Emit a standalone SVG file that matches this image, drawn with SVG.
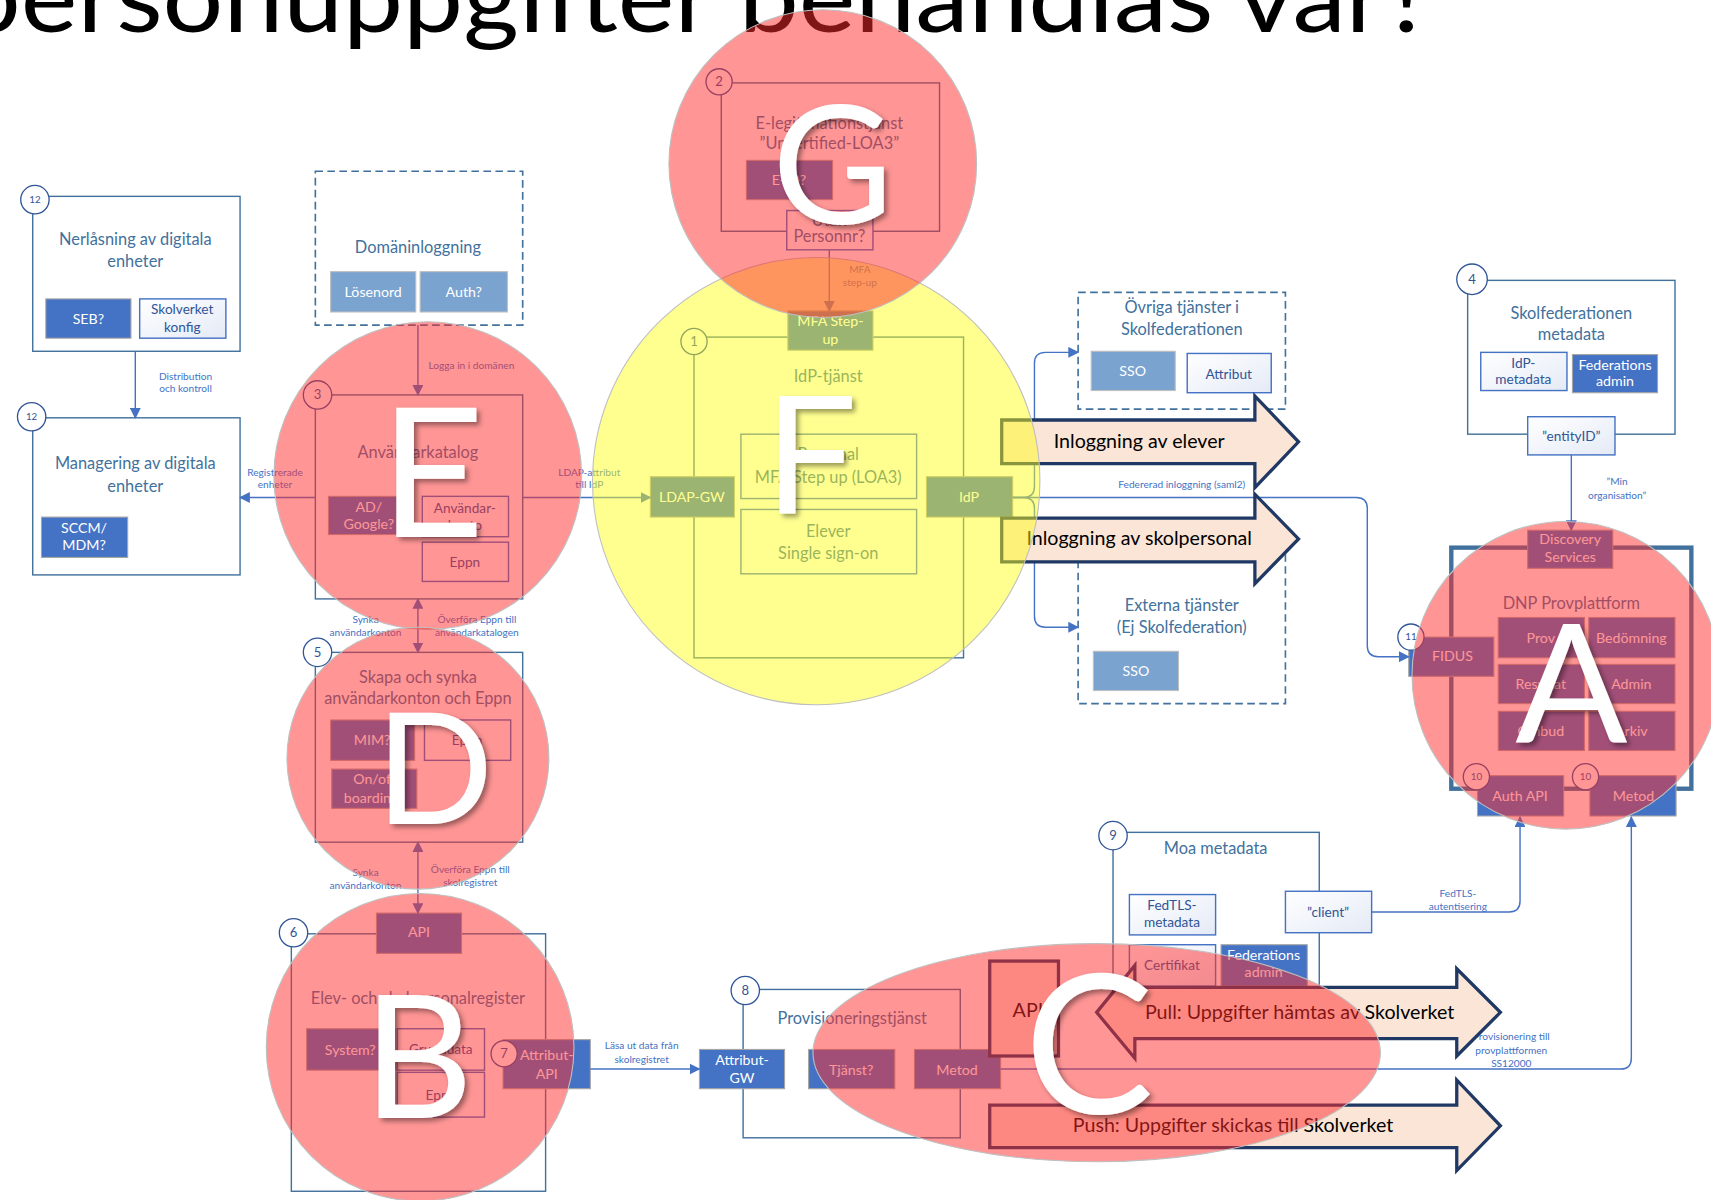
<svg xmlns="http://www.w3.org/2000/svg" width="1711" height="1200" viewBox="0 0 1711 1200">
<defs>
<style>
text{font-family:Lato,"Open Sans","Liberation Sans",sans-serif}
.frame{fill:none;stroke:#41719C;stroke-width:1.3}
.dash{fill:none;stroke:#41719C;stroke-width:1.5;stroke-dasharray:7 4}
.dk{fill:#4472C4;stroke:#A6A6A6;stroke-width:1}
.lt{fill:#7BA3D0;stroke:#BFBFBF;stroke-width:1}
.wb{fill:url(#wg);stroke:#4472C4;stroke-width:1.3}
.ob{fill:#fff;stroke:#4472C4;stroke-width:1.3}
.title{font-size:15px;fill:#41719C;text-anchor:middle}
.wt{fill:#fff;text-anchor:middle;font-size:13px}
.bt{fill:#2F5597;text-anchor:middle;font-size:12.5px}
.sm{fill:#4472C4;text-anchor:middle;font-size:9.3px}
.num circle{fill:#fff;stroke:#2F5597;stroke-width:1.2}
.num text{fill:#2F5597;text-anchor:middle;font-size:12px}
.num.s text{font-size:9px}
.conn{fill:none;stroke:#4472C4;stroke-width:1.3}
.big{fill:#FBE5D6;stroke:#1F3864;stroke-width:3}
.bigt{font-size:18px;fill:#000;text-anchor:middle}
.red{fill:#FF2B2B;fill-opacity:.5;stroke:#BFBFBF;stroke-width:1}
.yel{fill:#FFFF14;fill-opacity:.47;stroke:#BFBFBF;stroke-width:1}
.let{fill:#fff;text-anchor:middle;filter:url(#sh)}
</style>
<linearGradient id="wg" x1="0" y1="0" x2="1" y2="1">
<stop offset="0" stop-color="#fff"/><stop offset="1" stop-color="#E4EAF6"/>
</linearGradient>
<marker id="ah" viewBox="0 0 10 10" refX="9" refY="5" markerWidth="10" markerHeight="10" markerUnits="userSpaceOnUse" orient="auto-start-reverse">
<path d="M0,0 L10,5 L0,10 z" fill="#4472C4"/>
</marker>
<filter id="sh" x="-20%" y="-20%" width="150%" height="150%">
<feDropShadow dx="3" dy="3" stdDeviation="2.5" flood-color="#000" flood-opacity="0.4"/>
</filter>
</defs>
<rect width="1711" height="1200" fill="#fff"/>
<g transform="scale(1.0912 1.0909)">

<text x="-36" y="29" font-size="88" font-weight="400" fill="#000" textLength="1349" lengthAdjust="spacingAndGlyphs">personuppgifter behandlas var?</text>

<!-- nodes -->
<g id="n12a">
<rect class="frame" x="30" y="180" width="190" height="142"/>
<text class="title" x="124" y="225">Nerlåsning av digitala</text>
<text class="title" x="124" y="245">enheter</text>
<rect class="dk" x="42" y="274" width="78" height="36"/>
<text class="wt" x="81" y="297" font-size="14">SEB?</text>
<rect class="wb" x="128" y="274" width="79" height="36"/>
<text class="bt" x="167" y="288" font-size="12">Skolverket</text>
<text class="bt" x="167" y="304" font-size="12">konfig</text>
<g class="num s"><circle cx="32" cy="183" r="13"/><text x="32" y="186">12</text></g>
</g>

<g id="n12b">
<rect class="frame" x="30" y="383" width="190" height="144"/>
<text class="title" x="124" y="430">Managering av digitala</text>
<text class="title" x="124" y="451">enheter</text>
<rect class="dk" x="38" y="474" width="79" height="37"/>
<text class="wt" x="77" y="489" font-size="12.5">SCCM/</text>
<text class="wt" x="77" y="504" font-size="12.5">MDM?</text>
<g class="num s"><circle cx="29" cy="382" r="13"/><text x="29" y="385">12</text></g>
</g>

<g id="ndoman">
<rect class="dash" x="289" y="157" width="190" height="141"/>
<text class="title" x="383" y="232">Domäninloggning</text>
<rect class="lt" x="303" y="249" width="78" height="37"/>
<text class="wt" x="342" y="272" font-size="14">Lösenord</text>
<rect class="lt" x="385" y="249" width="80" height="37"/>
<text class="wt" x="425" y="272" font-size="14">Auth?</text>
</g>

<g id="n3">
<rect class="frame" x="289" y="362" width="190" height="187"/>
<text class="title" x="383" y="420">Användarkatalog</text>
<rect class="dk" x="301" y="455" width="73" height="35"/>
<text class="wt" x="338" y="469">AD/</text>
<text class="wt" x="338" y="485">Google?</text>
<rect class="ob" x="387" y="455" width="79" height="37"/>
<text class="bt" x="426" y="470" font-size="13">Användar-</text>
<text class="bt" x="426" y="486" font-size="13">konto</text>
<rect class="ob" x="387" y="497" width="79" height="36"/>
<text class="bt" x="426" y="520" font-size="13">Eppn</text>
<g class="num"><circle cx="291" cy="362" r="13"/><text x="291" y="366">3</text></g>
</g>

<g id="n5">
<rect class="frame" x="289" y="598" width="190" height="174"/>
<text class="title" x="383" y="626" font-size="14">Skapa och synka</text>
<text class="title" x="383" y="645" font-size="14">användarkonton och Eppn</text>
<rect class="dk" x="303" y="660" width="77" height="37"/>
<text class="wt" x="341" y="683" font-size="14">MIM?</text>
<rect class="ob" x="389" y="660" width="79" height="37"/>
<text class="bt" x="428" y="683" font-size="13">Eppn</text>
<rect class="dk" x="304" y="705" width="78" height="36"/>
<text class="wt" x="343" y="719" font-size="13.5">On/off</text>
<text class="wt" x="343" y="736" font-size="13.5">boarding?</text>
<g class="num"><circle cx="291" cy="598" r="13"/><text x="291" y="602">5</text></g>
</g>

<g id="n6">
<rect class="frame" x="267" y="856" width="233" height="236"/>
<rect class="dk" x="345" y="837" width="78" height="37"/>
<text class="wt" x="384" y="859" font-size="12">API</text>
<text class="title" x="383" y="920">Elev- och skolpersonalregister</text>
<rect class="dk" x="281" y="943" width="81" height="38"/>
<text class="wt" x="321" y="967" font-size="14">System?</text>
<rect class="ob" x="364" y="943" width="80" height="38"/>
<text class="bt" x="404" y="966" font-size="13">Grunddata</text>
<rect class="ob" x="364" y="983" width="80" height="41"/>
<text class="bt" x="404" y="1008" font-size="13">Eppn</text>
<g class="num"><circle cx="269" cy="855" r="13"/><text x="269" y="859">6</text></g>
</g>

<g id="n7">
<rect class="dk" x="461" y="953" width="80" height="45"/>
<text class="wt" x="501" y="972" font-size="12.5">Attribut-</text>
<text class="wt" x="501" y="989" font-size="12.5">API</text>
<g class="num"><circle cx="462" cy="966" r="12"/><text x="462" y="970">7</text></g>
</g>

<g id="n8">
<rect class="frame" x="681" y="907" width="199" height="136"/>
<text class="title" x="781" y="939">Provisioneringstjänst</text>
<rect class="dk" x="641" y="962" width="78" height="36"/>
<text class="wt" x="680" y="976" font-size="12.5">Attribut-</text>
<text class="wt" x="680" y="993" font-size="12.5">GW</text>
<rect class="dk" x="741" y="962" width="79" height="36"/>
<text class="wt" x="780" y="985" font-size="14">Tjänst?</text>
<rect class="dk" x="838" y="962" width="79" height="36"/>
<text class="wt" x="877" y="985" font-size="13">Metod</text>
<g class="num"><circle cx="683" cy="908" r="13"/><text x="683" y="912">8</text></g>
</g>

<g id="n9">
<rect class="frame" x="1020" y="763" width="189" height="152"/>
<text class="title" x="1114" y="783">Moa metadata</text>
<rect class="wb" x="1035" y="820" width="79" height="37"/>
<text class="bt" x="1074" y="834">FedTLS-</text>
<text class="bt" x="1074" y="850">metadata</text>
<rect class="wb" x="1178" y="817" width="79" height="38"/>
<text class="bt" x="1217" y="841" font-size="13">”client”</text>
<rect class="wb" x="1035" y="866" width="79" height="38"/>
<text class="bt" x="1074" y="889">Certifikat</text>
<rect class="dk" x="1119" y="866" width="79" height="38"/>
<text class="wt" x="1158" y="880" font-size="12.5">Federations</text>
<text class="wt" x="1158" y="896" font-size="12.5">admin</text>
<g class="num"><circle cx="1020" cy="766" r="13"/><text x="1020" y="770">9</text></g>
</g>

<g id="n4">
<rect class="frame" x="1345" y="257" width="190" height="141"/>
<text class="title" x="1440" y="292">Skolfederationen</text>
<text class="title" x="1440" y="312">metadata</text>
<rect class="wb" x="1357" y="323" width="79" height="35"/>
<text class="bt" x="1396" y="337" font-size="12">IdP-</text>
<text class="bt" x="1396" y="352" font-size="12">metadata</text>
<rect class="dk" x="1441" y="325" width="78" height="35"/>
<text class="wt" x="1480" y="339" font-size="12.5">Federations</text>
<text class="wt" x="1480" y="354" font-size="12.5">admin</text>
<rect class="wb" x="1400" y="382" width="80" height="35"/>
<text class="bt" x="1440" y="404" font-size="13">”entityID”</text>
<g class="num"><circle cx="1349" cy="256" r="14"/><text x="1349" y="260">4</text></g>
</g>

<g id="novriga">
<rect class="dash" x="988" y="268" width="190" height="107"/>
<text class="title" x="1083" y="287">Övriga tjänster i</text>
<text class="title" x="1083" y="307">Skolfederationen</text>
<rect class="lt" x="1000" y="322" width="77" height="36"/>
<text class="wt" x="1038" y="345" font-size="14">SSO</text>
<rect class="wb" x="1088" y="324" width="77" height="36"/>
<text class="bt" x="1126" y="347" font-size="13">Attribut</text>
</g>

<g id="nexterna">
<rect class="dash" x="988" y="500" width="190" height="145"/>
<text class="title" x="1083" y="560">Externa tjänster</text>
<text class="title" x="1083" y="580">(Ej Skolfederation)</text>
<rect class="lt" x="1002" y="597" width="78" height="36"/>
<text class="wt" x="1041" y="620" font-size="14">SSO</text>
</g>

<g id="n1">
<rect class="frame" x="636" y="309" width="247" height="294"/>
<rect class="dk" x="722" y="285" width="78" height="36"/>
<text class="wt" x="761" y="299" font-size="12.5">MFA Step-</text>
<text class="wt" x="761" y="315" font-size="12.5">up</text>
<text class="title" x="759" y="350">IdP-tjänst</text>
<rect class="ob" x="679" y="398" width="161" height="59"/>
<text class="title" x="759" y="422" font-size="14.5">Personal</text>
<text class="title" x="759" y="443" font-size="14.5">MFA Step up (LOA3)</text>
<rect class="ob" x="679" y="467" width="161" height="59"/>
<text class="title" x="759" y="492" font-size="14.5">Elever</text>
<text class="title" x="759" y="512" font-size="14.5">Single sign-on</text>
<rect class="dk" x="596" y="437" width="77" height="37"/>
<text class="wt" x="634" y="460">LDAP-GW</text>
<rect class="dk" x="849" y="437" width="79" height="37"/>
<text class="wt" x="888" y="460">IdP</text>
<g class="num"><circle cx="636" cy="313" r="12"/><text x="636" y="317">1</text></g>
</g>

<g id="n2">
<rect class="frame" x="661" y="76" width="200" height="136"/>
<text class="title" x="760" y="118">E-legitimationstjänst</text>
<text class="title" x="760" y="137">”Uncertified-LOA3”</text>
<rect class="dk" x="684" y="147" width="79" height="36"/>
<text class="wt" x="723" y="170" font-size="13.5">E-ID?</text>
<rect class="ob" x="721" y="193" width="79" height="36"/>
<text class="title" x="760" y="207" font-size="12.5">Utan</text>
<text class="title" x="760" y="222" font-size="12.5">Personnr?</text>
<g class="num"><circle cx="659" cy="75" r="12"/><text x="659" y="79">2</text></g>
</g>

<g id="ndnp">
<rect x="1330" y="502" width="220" height="221" fill="none" stroke="#41719C" stroke-width="4"/>
<rect class="dk" x="1400" y="486" width="78" height="35"/>
<text class="wt" x="1439" y="499" font-size="12.5">Discovery</text>
<text class="wt" x="1439" y="515" font-size="12.5">Services</text>
<text class="title" x="1440" y="558">DNP Provplattform</text>
<rect class="dk" x="1373" y="566" width="79" height="37"/>
<text class="wt" x="1412" y="589">Prov</text>
<rect class="dk" x="1456" y="566" width="79" height="37"/>
<text class="wt" x="1495" y="589">Bedömning</text>
<rect class="dk" x="1373" y="609" width="79" height="36"/>
<text class="wt" x="1412" y="632">Resultat</text>
<rect class="dk" x="1456" y="609" width="79" height="36"/>
<text class="wt" x="1495" y="632">Admin</text>
<rect class="dk" x="1373" y="652" width="79" height="36"/>
<text class="wt" x="1412" y="675">Ombud</text>
<rect class="dk" x="1456" y="652" width="79" height="36"/>
<text class="wt" x="1495" y="675">Arkiv</text>
<rect class="dk" x="1291" y="584" width="78" height="36"/>
<text class="wt" x="1331" y="606">FIDUS</text>
<g class="num s"><circle cx="1293" cy="584" r="12"/><text x="1293" y="587">11</text></g>
<rect class="dk" x="1354" y="711" width="79" height="37"/>
<text class="wt" x="1393" y="734" font-size="12.5">Auth API</text>
<g class="num s"><circle cx="1353" cy="712" r="12"/><text x="1353" y="715">10</text></g>
<rect class="dk" x="1457" y="711" width="79" height="37"/>
<text class="wt" x="1497" y="734" font-size="12.5">Metod</text>
<g class="num s"><circle cx="1453" cy="712" r="12"/><text x="1453" y="715">10</text></g>
</g>

<g id="napi">
<rect class="big" x="907" y="881" width="63" height="87"/>
<text class="bigt" x="942" y="932" font-size="17">API</text>
</g>

<!-- connectors -->
<g id="connectors">
<path class="conn" d="M124,322 V383" marker-end="url(#ah)"/>
<text class="sm" x="170" y="348">Distribution</text>
<text class="sm" x="170" y="359">och kontroll</text>
<path class="conn" d="M383,298 V362" marker-end="url(#ah)"/>
<text class="sm" x="432" y="338">Logga in i domänen</text>
<path class="conn" d="M289,456 H220" marker-end="url(#ah)"/>
<text class="sm" x="252" y="436">Registrerade</text>
<text class="sm" x="252" y="447">enheter</text>
<path class="conn" d="M479,456 H596" marker-end="url(#ah)"/>
<text class="sm" x="540" y="436">LDAP-attribut</text>
<text class="sm" x="540" y="447">till IdP</text>
<path class="conn" d="M383,549 V598" marker-start="url(#ah)" marker-end="url(#ah)"/>
<text class="sm" x="335" y="571">Synka</text>
<text class="sm" x="335" y="583">användarkonton</text>
<text class="sm" x="437" y="571">Överföra Eppn till</text>
<text class="sm" x="437" y="583">användarkatalogen</text>
<path class="conn" d="M383,772 V837" marker-start="url(#ah)" marker-end="url(#ah)"/>
<text class="sm" x="335" y="803">Synka</text>
<text class="sm" x="335" y="815">användarkonton</text>
<text class="sm" x="431" y="800">Överföra Eppn till</text>
<text class="sm" x="431" y="812">skolregistret</text>
<path class="conn" d="M541,980 H641" marker-end="url(#ah)"/>
<text class="sm" x="588" y="962">Läsa ut data från</text>
<text class="sm" x="588" y="974">skolregistret</text>
<path class="conn" d="M917,980 H1485 Q1495,980 1495,970 V749" marker-end="url(#ah)"/>
<text class="sm" x="1385" y="953">Provisionering till</text>
<text class="sm" x="1385" y="966">provplattformen</text>
<text class="sm" x="1385" y="978">SS12000</text>
<path class="conn" d="M1257,836 H1383 Q1393,836 1393,826 V749" marker-end="url(#ah)"/>
<text class="sm" x="1336" y="822">FedTLS-</text>
<text class="sm" x="1336" y="834">autentisering</text>
<path class="conn" d="M1440,417 V486" marker-end="url(#ah)"/>
<text class="sm" x="1482" y="445">”Min</text>
<text class="sm" x="1482" y="457">organisation”</text>
<path class="conn" d="M760,229 V285" marker-end="url(#ah)"/>
<text class="sm" x="788" y="250">MFA</text>
<text class="sm" x="788" y="262">step-up</text>
<path class="conn" d="M928,456 H1243 Q1253,456 1253,466 V592 Q1253,602 1263,602 H1291" marker-end="url(#ah)"/>
<text class="sm" x="1083" y="447">Federerad inloggning (saml2)</text>
<path class="conn" d="M928,456 H938 Q948,456 948,446 V333 Q948,323 958,323 H988" marker-end="url(#ah)"/>
<path class="conn" d="M928,456 H938 Q948,456 948,466 V565 Q948,575 958,575 H988" marker-end="url(#ah)"/>
</g>

<g id="bigarrows">
<polygon class="big" points="918,385 1150,385 1150,363 1190,405 1150,447 1150,425 918,425"/>
<text class="bigt" x="1044" y="411">Inloggning av elever</text>
<polygon class="big" points="918,475 1150,475 1150,453 1190,494 1150,535 1150,515 918,515"/>
<text class="bigt" x="1044" y="500">Inloggning av skolpersonal</text>
<polygon class="big" points="1005,928 1040,885 1040,905 1335,905 1335,888 1375,928 1335,968 1335,952 1040,952 1040,970"/>
<text class="bigt" x="1191" y="934">Pull: Uppgifter hämtas av Skolverket</text>
<polygon class="big" points="907,1013 1335,1013 1335,990 1375,1032 1335,1073 1335,1052 907,1052"/>
<text class="bigt" x="1130" y="1038">Push: Uppgifter skickas till Skolverket</text>
</g>

<!-- overlays -->
<g id="overlays">
<circle class="yel" cx="748" cy="441" r="205"/>
<circle class="red" cx="754" cy="150" r="141"/>
<circle class="red" cx="392" cy="436" r="141"/>
<circle class="red" cx="383" cy="695" r="120"/>
<circle class="red" cx="385" cy="960" r="141"/>
<circle class="red" cx="1435" cy="619" r="141"/>
<ellipse class="red" cx="1005" cy="965" rx="260" ry="100"/>
</g>

<g id="letters">
<text class="let" x="763" y="205" font-size="152">G</text>
<text class="let" x="743" y="470" font-size="150">F</text>
<text class="let" x="396" y="492" font-size="166">E</text>
<text class="let" x="398" y="755" font-size="142">D</text>
<text class="let" x="383" y="1025" font-size="156">B</text>
<text class="let" x="1440" y="680" font-size="152">A</text>
<text class="let" x="998" y="1020" font-size="178">C</text>
</g>

</g>
</svg>
